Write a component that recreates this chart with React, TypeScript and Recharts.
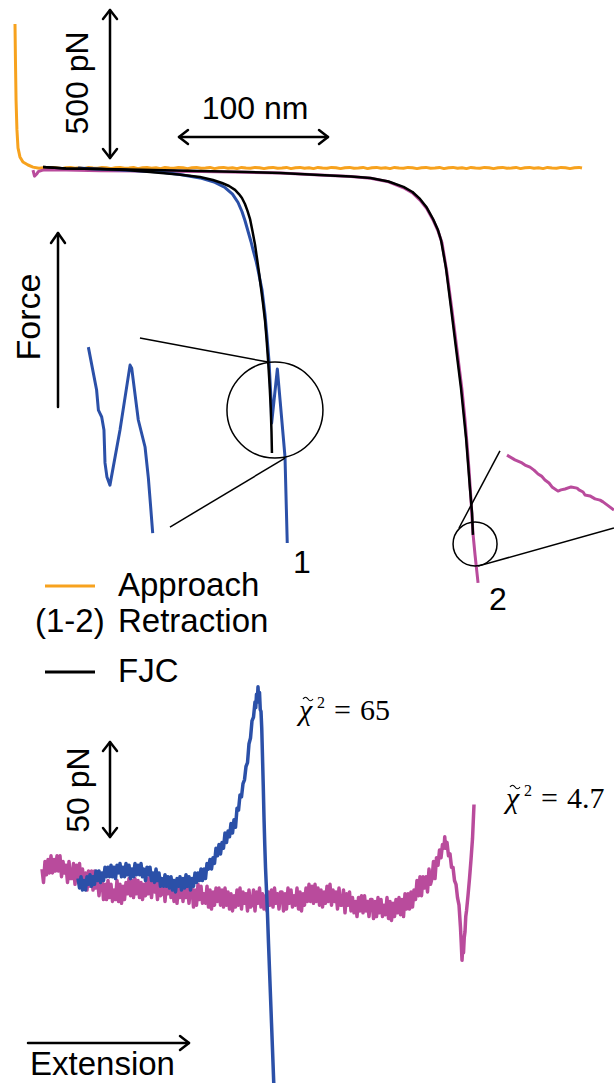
import { LineChart, Line, XAxis, YAxis, ReferenceDot, ReferenceLine } from 'recharts'

// top panel: extension (nm) vs force (pN), retraction pulls downward
const approach = [
  [-14, 480], [-13.7, 360], [-13.3, 227], [-12.7, 127], [-12, 67], [-10.7, 37], [-8.7, 20], [-5.3, 10], [-2, 3],
  [2, -1], [5, 1], [8, -1], [11, 2], [14, 0], [17, -2], [20, 1], [23, 2], [26, -1], [29, 1], [32, -2], [35, 2],
  [38, 0], [41, -1], [44, 2], [47, 1], [50, -2], [53, 1], [56, 2], [59, -1], [62, 0], [65, 2], [68, -2], [71, 1],
  [74, 2], [77, -1], [80, 1], [83, -2], [86, 2], [89, 0], [92, -1], [95, 2], [98, 1], [101, -2], [104, 1], [107, 2],
  [110, -1], [113, 0], [116, 2], [119, -2], [122, 1], [125, 2], [128, -1], [131, 1], [134, -2], [137, 2], [140, 0],
  [143, -1], [146, 2], [149, 1], [152, -2], [155, 1], [158, 2], [161, -1], [164, 0], [167, 2], [170, -2], [173, 1],
  [176, 2], [179, -1], [182, 1], [185, -2], [188, 2], [191, 0], [194, -1], [197, 2], [200, 1], [203, -2], [206, 1],
  [209, 2], [212, -1], [215, 0], [218, 2], [221, -2], [224, 1], [227, 2], [230, -1], [233, 1], [236, -2], [239, 2],
  [242, 0], [245, -1], [248, 2], [251, 1], [254, -2], [257, 1], [260, 2], [263, -1], [266, 0], [269, 2], [272, -2],
  [275, 1], [278, 2], [281, -1], [284, 1], [287, -2], [290, 2], [293, 0], [296, -1], [299, 2], [302, 1], [305, -2],
  [308, 1], [311, 2], [314, -1], [317, 0], [320, 2], [323, -2], [326, 1], [329, 2], [332, -1], [335, 1], [338, -2],
  [341, 2], [344, 0], [347, -1], [350, 2], [353, 1], [356, -2], [359, 1], [362, 2], [364, 0],
]

const retraction1 = [
  [28, 0], [40, -3], [56, -7], [70, -10], [82.7, -13], [96, -22], [109.3, -33], [119.3, -48], [126, -65],
  [131, -87], [134.7, -115], [137.3, -145], [139.3, -175], [141.3, -210], [143.3, -245], [144.7, -273],
  [146.7, -310], [148, -340], [150.7, -407], [152.7, -490], [154, -563], [155.3, -640], [156, -707],
  [156.7, -773], [157.1, -850], [160.9, -670], [162.7, -773], [166, -963], [167.5, -1250],
]

const retraction2 = [
  [-2, -7], [-1, -27], [0.5, -20], [1.5, -12], [4, -8], [6, -6], [20, -7], [43, -9], [70, -10], [110, -12],
  [140, -14], [163, -17], [189, -23], [210, -28], [223, -34], [235, -46], [245, -66], [251, -83], [256, -107],
  [260.5, -135], [264.7, -173], [268, -210], [270.7, -250], [274, -350], [277.3, -473], [280.7, -607], [284, -740],
  [286, -840], [287.3, -917], [288.7, -1007], [290, -1107], [291.3, -1217], [292.7, -1290], [294.7, -1383],
]

const fjc1 = [
  [4.7, 3], [20, -2], [42.7, -3], [60, -7], [76, -13], [95, -22], [109.3, -30], [118, -40], [124, -50],
  [128.7, -60], [132.7, -73], [135.3, -87], [137.3, -100], [139.3, -120], [141, -143], [142.7, -170],
  [144.3, -210], [146, -255], [147.3, -300], [148.7, -350], [150, -400], [151.3, -450], [152.7, -510],
  [153.7, -570], [154.7, -640], [155.7, -720], [156.5, -800], [157, -880], [157.3, -950],
]

const fjc2 = [
  [4.7, 3], [20, -2], [42.7, -3], [70, -6], [109, -10], [140, -13], [163, -17], [189, -23], [210, -28],
  [223, -33], [235, -45], [245, -63], [251, -80], [256, -103], [260.5, -132], [264.7, -170], [268, -207],
  [270, -240], [273.3, -333], [276.7, -467], [280, -600], [283.3, -733], [286.7, -900], [289.3, -1067],
  [290.7, -1150], [291.3, -1223],
]

// magnified views of the rupture regions
const inset1 = [
  [34.9, -597], [40.4, -740], [41.6, -807], [43.8, -830], [45.3, -873], [46, -983], [47.3, -1030], [49.3, -1057],
  [56, -873], [62.7, -657], [63.8, -667], [68.2, -840], [72.7, -930], [74.9, -1033], [76.4, -1127], [77.8, -1217],
]

const inset2 = [
  [314, -957], [319.3, -973], [324, -983], [326, -990], [329.3, -997], [332, -1007], [334.7, -1020], [337, -1027],
  [339.3, -1040], [342, -1050], [344, -1063], [348, -1077], [350, -1073], [352.7, -1070], [356.7, -1063],
  [360.7, -1067], [362, -1073], [364.7, -1080], [366, -1090], [369.3, -1093], [372.7, -1103], [376, -1107],
  [378, -1113], [380.7, -1123], [385.3, -1140],
]

// bottom panel: residual-like traces (pN)
const lowMagenta = [
  [4, 11], [5, 4], [6, 15], [7, 8], [8, 16], [9, 9], [10, 18], [11, 9], [12, 16], [13, 10], [14, 18], [15, 10],
  [16, 18], [17, 7], [18, 15], [19, 9], [20, 13], [21, 4], [22, 15], [23, 6], [24, 6], [25, 14], [26, 3], [27, 13],
  [28, 6], [29, 14], [30, 4], [31, 11], [32, 2], [33, 9], [34, 0], [35, 10], [36, 2], [37, 10], [38, 0], [39, 10],
  [40, 1], [41, 6], [42, -3], [43, 6], [44, 5], [45, -5], [46, 3], [47, -5], [48, 5], [49, -4], [50, 3], [51, -6],
  [52, 0], [53, -5], [54, 5], [55, -6], [56, 3], [57, -7], [58, 2], [59, -5], [60, 4], [61, -2], [62, 6], [63, -3],
  [64, 5], [65, -4], [66, 6], [67, -2], [68, 5], [69, -4], [70, 4], [71, -5], [72, 3], [73, -3], [74, 6], [75, -2],
  [76, 7], [77, -4], [78, 5], [79, -1], [80, 4], [81, -5], [82, 6], [83, -3], [84, -2], [85, 6], [86, -6], [87, 4],
  [88, -2], [89, 6], [90, -4], [91, 3], [92, -6], [93, 1], [94, -7], [95, 3], [96, -4], [97, 4], [98, -6], [99, 4],
  [100, -4], [101, 1], [102, -7], [103, 2], [104, 1], [105, -9], [106, 0], [107, -8], [108, 3], [109, -5], [110, 2],
  [111, -7], [112, -2], [113, -7], [114, 2], [115, -9], [116, 0], [117, -10], [118, -1], [119, -8], [120, 1],
  [121, -6], [122, 1], [123, -8], [124, 0], [125, -9], [126, 1], [127, -8], [128, -1], [129, -10], [130, -2],
  [131, -11], [132, -3], [133, -9], [134, 0], [135, -8], [136, 1], [137, -10], [138, -1], [139, -7], [140, -2],
  [141, -11], [142, 0], [143, -9], [144, -8], [145, 0], [146, -11], [147, -1], [148, -7], [149, 1], [150, -9],
  [151, -2], [152, -10], [153, -3], [154, -11], [155, -1], [156, -8], [157, 0], [158, -9], [159, 1], [160, -7],
  [161, -2], [162, -10], [163, -1], [164, -1], [165, -11], [166, -2], [167, -10], [168, 1], [169, -7], [170, 0],
  [171, -9], [172, -3], [173, -8], [174, 1], [175, -10], [176, -1], [177, -11], [178, -2], [179, -8], [180, 1],
  [181, -6], [182, 3], [183, -6], [184, 2], [185, -7], [186, 3], [187, -6], [188, 1], [189, -8], [190, 0], [191, -9],
  [192, -1], [193, -7], [194, 2], [195, -6], [196, 3], [197, -8], [198, 0], [199, -6], [200, -1], [201, -10],
  [202, 1], [203, -8], [204, -8], [205, 0], [206, -12], [207, -2], [208, -8], [209, -1], [210, -11], [211, -4],
  [212, -12], [213, -6], [214, -14], [215, -4], [216, -11], [217, -3], [218, -12], [219, -3], [220, -11], [221, -6],
  [222, -14], [223, -5], [224, -5], [225, -15], [226, -6], [227, -14], [228, -4], [229, -12], [230, -5], [231, -14],
  [232, -8], [233, -13], [234, -4], [235, -15], [236, -6], [237, -16], [238, -7], [239, -14], [240, -5], [241, -12],
  [242, -4], [243, -13], [244, -5], [245, -14], [246, -2], [247, -10], [248, -2], [249, -10], [250, -1], [251, -9],
  [252, 0], [253, -5], [254, 5], [255, -3], [256, 7], [257, -3], [258, 7], [259, 1], [260, 7], [261, -1], [262, 11],
  [263, 3], [264, 6], [265, 15], [266, 6], [267, 17], [268, 13], [269, 21], [270, 17], [271, 24], [272, 22],
  [272.5, 28], [273, 22], [274, 25], [275, 18], [276, 19], [277, 12], [278, 12], [279, 5], [280, 3], [281, -4],
  [282, -8], [283, -20], [283.5, -28], [284, -37], [284.5, -30], [285, -33], [285.5, -25], [286, -22], [286.5, -14],
  [287, -11], [288, -3], [289, 6], [290, 16], [291, 27], [292, 45],
]

const lowBlue = [
  [28, 6], [29, 1], [30, 7], [31, 0], [32, 5], [33, 0], [34, 7], [35, 3], [36, 8], [37, 2], [38, 7], [39, 3],
  [40, 10], [41, 5], [42, 10], [43, 4], [44, 9], [45, 5], [46, 12], [47, 7], [48, 12], [49, 7], [50, 13], [51, 7],
  [52, 12], [53, 6], [54, 13], [55, 9], [56, 14], [57, 7], [58, 12], [59, 7], [60, 14], [61, 8], [62, 13], [63, 6],
  [64, 11], [65, 7], [66, 14], [67, 8], [68, 13], [69, 8], [70, 14], [71, 7], [72, 11], [73, 5], [74, 12], [75, 8],
  [76, 12], [77, 5], [78, 9], [79, 4], [80, 11], [81, 5], [82, 9], [83, 2], [84, 6], [85, 2], [86, 8], [87, 2],
  [88, 7], [89, 1], [90, 7], [91, 0], [92, 5], [93, -1], [94, 6], [95, 2], [96, 7], [97, 0], [98, 6], [99, 1],
  [100, 8], [101, 2], [102, 7], [103, 0], [104, 6], [105, 2], [106, 9], [107, 4], [108, 9], [109, 5], [110, 11],
  [111, 5], [112, 11], [113, 6], [114, 14], [115, 11], [116, 16], [117, 11], [118, 17], [119, 14], [120, 22],
  [121, 18], [122, 24], [123, 19], [124, 25], [125, 22], [126, 30], [127, 25], [128, 31], [129, 28], [130, 35],
  [131, 30], [132, 37], [133, 33], [134, 43], [135, 42], [136, 50], [137, 49], [138, 56], [139, 58], [140, 65],
  [141, 67], [142, 77], [143, 80], [144, 89], [145, 91], [146, 99], [146.5, 96], [147, 103], [147.5, 99],
  [148, 107], [148.5, 100], [149, 104], [149.5, 95], [150, 94], [150.5, 85], [151, 70], [151.5, 55], [152, 38],
  [152.5, 24], [153, 12], [154.2, -10], [155, -28], [156, -49], [157, -70], [158, -91], [158.8, -108],
]

const toPts = (arr: number[][]) => arr.map(([x, f]) => ({ x, f }))

const ORANGE = '#F7A21E'
const BLUE = '#2B50A8'
const MAGENTA = '#B94B9C'
const SANS = "'Liberation Sans', Arial, sans-serif"
const SERIF = "'Liberation Serif', 'Times New Roman', serif"
const X_DOMAIN: [number, number] = [-24, 385.33]

function trace(data: number[][], color: string, width: number, key: string) {
  return (
    <Line
      key={key}
      data={toPts(data)}
      dataKey="f"
      type="linear"
      stroke={color}
      strokeWidth={width}
      strokeLinejoin="round"
      dot={false}
      activeDot={false}
      isAnimationActive={false}
    />
  )
}

// reduced chi-square label; the tilde is a small drawn wave over the chi
function Chi({ x, y, value }: { x: number; y: number; value: string }) {
  return (
    <g fontFamily={SERIF} fill="#000">
      <text x={x} y={y} fontSize={30} fontStyle="italic">χ</text>
      <path
        d={`M${x + 4},${y - 21} q2.5,-3.5 5,0 t5,0`}
        fill="none"
        stroke="#000"
        strokeWidth={1.2}
      />
      <text x={x + 18} y={y - 12} fontSize={16}>2</text>
      <text x={x + 35} y={y} fontSize={30}>=</text>
      <text x={x + 61} y={y} fontSize={30}>{value}</text>
    </g>
  )
}

export default function App() {
  return (
    <div style={{ position: 'relative', width: 614, height: 1083, background: '#fff', overflow: 'hidden' }}>
      <style>{'body{margin:0}'}</style>
      <div style={{ position: 'absolute', left: 0, top: 0 }}>
        <LineChart width={614} height={640} margin={{ top: 0, right: 0, bottom: 0, left: 0 }}>
          <XAxis type="number" dataKey="x" domain={X_DOMAIN} hide allowDataOverflow />
          <YAxis type="number" dataKey="f" domain={[-1573.3, 560]} hide allowDataOverflow />
          {trace(approach, ORANGE, 3, 'app')}
          {trace(retraction2, MAGENTA, 3, 'r2')}
          {trace(retraction1, BLUE, 3, 'r1')}
          {trace(fjc1, '#000', 2.5, 'f1')}
          {trace(fjc2, '#000', 2.5, 'f2')}
          {trace(inset1, BLUE, 3, 'i1')}
          {trace(inset2, MAGENTA, 3, 'i2')}
          <ReferenceDot x={159.3} y={-807} r={48} fill="none" stroke="#000" strokeWidth={1.5} ifOverflow="visible" />
          <ReferenceDot x={292.7} y={-1253} r={22} fill="none" stroke="#000" strokeWidth={1.5} ifOverflow="visible" />
          <ReferenceLine segment={[{ x: 69.3, y: -567 }, { x: 154.7, y: -647 }]} stroke="#000" strokeWidth={1.5} ifOverflow="visible" />
          <ReferenceLine segment={[{ x: 89.3, y: -1197 }, { x: 166, y: -967 }]} stroke="#000" strokeWidth={1.5} ifOverflow="visible" />
          <ReferenceLine segment={[{ x: 309.3, y: -943 }, { x: 282, y: -1200 }]} stroke="#000" strokeWidth={1.5} ifOverflow="visible" />
          <ReferenceLine segment={[{ x: 294.7, y: -1327 }, { x: 385.3, y: -1200 }]} stroke="#000" strokeWidth={1.5} ifOverflow="visible" />
        </LineChart>
      </div>
      <div style={{ position: 'absolute', left: 0, top: 640 }}>
        <LineChart width={614} height={443} margin={{ top: 0, right: 0, bottom: 0, left: 0 }}>
          <XAxis type="number" dataKey="x" domain={X_DOMAIN} hide allowDataOverflow />
          <YAxis type="number" dataKey="f" domain={[-101.6, 131.6]} hide allowDataOverflow />
          {trace(lowMagenta, MAGENTA, 3.5, 'lm')}
          {trace(lowBlue, BLUE, 3.5, 'lb')}
        </LineChart>
      </div>
      <svg width={614} height={1083} style={{ position: 'absolute', left: 0, top: 0, pointerEvents: 'none' }}>
        <g stroke="#000" strokeWidth={2.5} fill="none" strokeLinecap="round" strokeLinejoin="round">
          {/* 500 pN */}
          <line x1={110} y1={10} x2={110} y2={158} />
          <polyline points="103,19 110,10 117,19" />
          <polyline points="103,149 110,158 117,149" />
          {/* 100 nm */}
          <line x1={179} y1={137} x2={328} y2={137} />
          <polyline points="188,130 179,137 188,144" />
          <polyline points="319,130 328,137 319,144" />
          {/* force */}
          <line x1={58} y1={407} x2={58} y2={233} />
          <polyline points="51,243 58,233 65,243" />
          {/* 50 pN */}
          <line x1={110} y1={742} x2={110} y2={837} />
          <polyline points="103,751 110,742 117,751" />
          <polyline points="103,828 110,837 117,828" />
          {/* extension */}
          <line x1={28} y1={1043} x2={189} y2={1043} />
          <polyline points="180,1036 189,1043 180,1050" />
        </g>
        <g fontFamily={SANS} fill="#000">
          <text transform="translate(88,83) rotate(-90)" textAnchor="middle" fontSize={32}>500 pN</text>
          <text x={255} y={119} textAnchor="middle" fontSize={32}>100 nm</text>
          <text transform="translate(40,317) rotate(-90)" textAnchor="middle" fontSize={34}>Force</text>
          <text x={302} y={573} textAnchor="middle" fontSize={32}>1</text>
          <text x={498} y={610} textAnchor="middle" fontSize={32}>2</text>
          <text x={118} y={596} fontSize={33}>Approach</text>
          <text x={35} y={632} fontSize={33}>(1-2)</text>
          <text x={118} y={632} fontSize={33}>Retraction</text>
          <text x={118} y={682} fontSize={33}>FJC</text>
          <text transform="translate(89,790) rotate(-90)" textAnchor="middle" fontSize={32}>50 pN</text>
          <text x={30} y={1075} fontSize={33}>Extension</text>
        </g>
        <line x1={45} y1={586} x2={95} y2={586} stroke={ORANGE} strokeWidth={3} />
        <line x1={45} y1={672} x2={95} y2={672} stroke="#000" strokeWidth={3} />
        <Chi x={299} y={720} value="65" />
        <Chi x={506} y={808} value="4.7" />
      </svg>
    </div>
  )
}
